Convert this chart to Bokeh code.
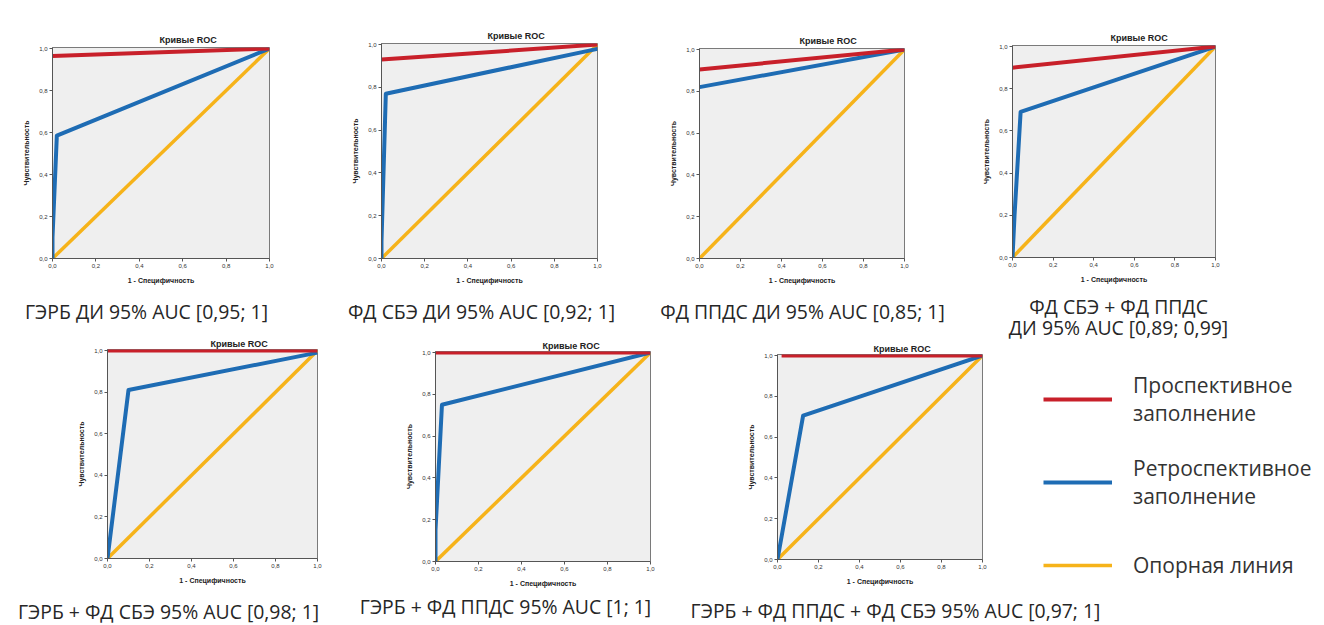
import numpy as np
from bokeh.plotting import figure
from bokeh.models import Range1d, Label, Legend, LegendItem, FixedTicker, CustomJSTickFormatter
from bokeh.layouts import row, column
from bokeh.embed import file_html
from bokeh.resources import INLINE

# ---------------- data ----------------
chart_title = "Кривые ROC"
x_axis_label = "1 - Специфичность"
y_axis_label = "Чувствительность"
tick_values = [0.0, 0.2, 0.4, 0.6, 0.8, 1.0]
series_names = ["Проспективное\nзаполнение", "Ретроспективное\nзаполнение", "Опорная линия"]

captions_row1 = ["ГЭРБ ДИ 95% AUC [0,95; 1]",
                 "ФД СБЭ ДИ 95% AUC [0,92; 1]",
                 "ФД ППДС ДИ 95% AUC [0,85; 1]"]
captions_row1_right = ["ФД СБЭ + ФД ППДС", "ДИ 95% AUC [0,89; 0,99]"]
captions_row2 = ["ГЭРБ + ФД СБЭ 95% AUC [0,98; 1]",
                 "ГЭРБ + ФД ППДС 95% AUC [1; 1]",
                 "ГЭРБ + ФД ППДС + ФД СБЭ 95% AUC [0,97; 1]"]

ref_x = [0.0, 1.0]
ref_y = [0.0, 1.0]

p1_red_x = [0.0, 1.0]
p1_red_y = [0.965, 1.0]
p1_blue_x = [0.0, 0.0, 0.02, 1.0]
p1_blue_y = [0.0, 0.1, 0.585, 1.0]

p2_red_x = [0.0, 1.0]
p2_red_y = [0.93, 1.0]
p2_blue_x = [0.0, 0.0, 0.02, 1.0]
p2_blue_y = [0.0, 0.08, 0.77, 0.98]

p3_red_x = [0.0, 1.0]
p3_red_y = [0.905, 1.0]
p3_blue_x = [0.0, 1.0]
p3_blue_y = [0.82, 1.0]

p4_red_x = [0.0, 1.0]
p4_red_y = [0.90, 1.0]
p4_blue_x = [0.0, 0.01, 0.04, 1.0]
p4_blue_y = [0.0, 0.2, 0.69, 1.0]

p5_red_x = [0.0, 1.0]
p5_red_y = [1.0, 1.0]
p5_blue_x = [0.0, 0.1, 1.0]
p5_blue_y = [0.0, 0.81, 0.99]

p6_red_x = [0.0, 1.0]
p6_red_y = [1.0, 1.0]
p6_blue_x = [0.0, 0.0, 0.03, 1.0]
p6_blue_y = [0.0, 0.15, 0.75, 1.0]

p7_red_x = [0.02, 1.0]
p7_red_y = [1.0, 1.0]
p7_blue_x = [0.0, 0.125, 1.0]
p7_blue_y = [0.0, 0.705, 1.0]

red_series = [(p1_red_x, p1_red_y), (p2_red_x, p2_red_y), (p3_red_x, p3_red_y), (p4_red_x, p4_red_y),
              (p5_red_x, p5_red_y), (p6_red_x, p6_red_y), (p7_red_x, p7_red_y)]
blue_series = [(p1_blue_x, p1_blue_y), (p2_blue_x, p2_blue_y), (p3_blue_x, p3_blue_y), (p4_blue_x, p4_blue_y),
               (p5_blue_x, p5_blue_y), (p6_blue_x, p6_blue_y), (p7_blue_x, p7_blue_y)]

# ---------------- styles / layout (page pixels, origin top-left) ----------------
RED = "#c8202a"
BLUE = "#1e6cb4"
ORANGE = "#f6b31a"
CAP_FONT = "Open Sans"
SPSS_FONT = "Liberation Sans"
CAP_SIZE = "19.4px"
W = 1324

ROWA_Y0, ROWA_H = 0, 292
STRIP1_Y0 = 292
LEFT_W = 1000                       # left block (charts 5-7) / right block (legend)
STRIP1L_H = 32                      # captions 1-3
STRIP1R_H = 48                      # two-line caption of chart 4
ROWB_Y0 = STRIP1_Y0 + STRIP1L_H     # 324
ROWB_H = 268
LEG_Y0 = STRIP1_Y0 + STRIP1R_H      # 340
LEG_H = 252
STRIP2_Y0, STRIP2_H = 592, 33

# fig_x0, fig_w, row_y0, row_h, frame_l, frame_t, frame_w, frame_h, title_left, title_standoff
layout_spec = [
    (0, 330, ROWA_Y0, ROWA_H, 52, 47, 217, 211, 159, 5),
    (330, 320, ROWA_Y0, ROWA_H, 381, 43, 216, 215, 487, 5),
    (650, 330, ROWA_Y0, ROWA_H, 699, 48, 205, 210, 799, 5),
    (980, 344, ROWA_Y0, ROWA_H, 1012, 45, 203, 212, 1110, 5),
    (0, 340, ROWB_Y0, ROWB_H, 107, 349, 210, 209, 210, 2),
    (340, 340, ROWB_Y0, ROWB_H, 435, 351, 215, 210, 542, 2),
    (680, 320, ROWB_Y0, ROWB_H, 777, 354, 205, 205, 873, 2),
]
# caption centres (page pixels)
cap1_pos = [(146, 310.5), (481, 310.5), (802, 310.5)]
cap1_right_pos = [(1118, 305.5), (1118, 326.5)]
cap2_pos = [(168, 611), (505, 606), (895, 610)]

fmt = CustomJSTickFormatter(code="return tick.toFixed(1).replace('.', ',');")


def make_panel(i):
    x0, w, ry0, rh, fl, ft, fw, fh, tl, tso = layout_spec[i]
    p = figure(width=w, height=rh, x_range=Range1d(0, 1), y_range=Range1d(0, 1.005),
               toolbar_location=None, output_backend="svg", frame_align=False,
               min_border_left=fl - x0, min_border_right=x0 + w - (fl + fw),
               min_border_top=ft - ry0, min_border_bottom=ry0 + rh - (ft + fh),
               background_fill_color="#efefef", border_fill_color="white",
               outline_line_color="#7a7a7a", outline_line_width=1)
    p.title.text = chart_title
    p.title.align = "left"
    p.title.offset = tl - fl
    p.title.standoff = tso
    p.title.text_font = SPSS_FONT
    p.title.text_font_size = "9px"
    p.title.text_font_style = "bold"
    p.title.text_color = "#222222"
    p.grid.visible = False
    for ax in (p.xaxis, p.yaxis):
        ax.ticker = FixedTicker(ticks=tick_values)
        ax.formatter = fmt
        ax.minor_tick_line_color = None
        ax.major_tick_in = 0
        ax.major_tick_out = 3
        ax.major_tick_line_color = "#555555"
        ax.axis_line_color = "#555555"
        ax.major_label_text_font = SPSS_FONT
        ax.major_label_text_font_size = "6px"
        ax.major_label_text_color = "#333333"
        ax.major_label_standoff = 2
        ax.axis_label_text_font = SPSS_FONT
        ax.axis_label_text_font_size = "7px"
        ax.axis_label_text_font_style = "bold"
        ax.axis_label_text_color = "#222222"
        ax.axis_label_standoff = 6
    p.xaxis.axis_label = x_axis_label
    p.yaxis.axis_label = y_axis_label

    rx, ry = red_series[i]
    bx, by = blue_series[i]
    p.line(ref_x, ref_y, line_color=ORANGE, line_width=3.5)
    p.line(bx, by, line_color=BLUE, line_width=4, line_join="round")
    p.line(rx, ry, line_color=RED, line_width=4)
    return p


def make_canvas(x0, w, y0, h):
    """Blank figure whose frame is the whole figure; data y = -(page y)."""
    s = figure(width=w, height=h, x_range=Range1d(x0, x0 + w), y_range=Range1d(-(y0 + h), -y0),
               toolbar_location=None, output_backend="svg", x_axis_type=None, y_axis_type=None,
               min_border=0, outline_line_color=None, background_fill_color="white",
               border_fill_color="white", frame_align=False)
    s.grid.visible = False
    return s


def add_captions(s, texts, positions):
    for txt, (cx, cy) in zip(texts, positions):
        s.add_layout(Label(x=cx, y=-cy, text=txt, text_font=CAP_FONT, text_font_size=CAP_SIZE,
                           text_color="#262626", text_align="center", text_baseline="middle"))


panels = [make_panel(i) for i in range(7)]

# legend figure; its (invisible, NaN) renderers carry the series styles for the legend samples
lf = make_canvas(LEFT_W, W - LEFT_W, LEG_Y0, LEG_H)
nan = np.array([np.nan])
lr_red = lf.line(nan, nan, line_color=RED, line_width=4)
lr_blue = lf.line(nan, nan, line_color=BLUE, line_width=4)
lr_ref = lf.line(nan, nan, line_color=ORANGE, line_width=3.5)
legend = Legend(items=[LegendItem(label=series_names[0], renderers=[lr_red]),
                       LegendItem(label=series_names[1], renderers=[lr_blue]),
                       LegendItem(label=series_names[2], renderers=[lr_ref])],
                location=(43, -5), orientation="vertical",
                glyph_width=69, glyph_height=50, label_height=64, spacing=19,
                padding=0, margin=0, label_standoff=21,
                label_text_font=CAP_FONT, label_text_font_size="21px",
                label_text_color="#333333", label_text_line_height=1.72,
                border_line_alpha=0, background_fill_alpha=0)
lf.add_layout(legend)

strip1_left = make_canvas(0, LEFT_W, STRIP1_Y0, STRIP1L_H)
add_captions(strip1_left, captions_row1, cap1_pos)
strip1_right = make_canvas(LEFT_W, W - LEFT_W, STRIP1_Y0, STRIP1R_H)
add_captions(strip1_right, captions_row1_right, cap1_right_pos)
strip2 = make_canvas(0, W, STRIP2_Y0, STRIP2_H)
add_captions(strip2, captions_row2, cap2_pos)

layout = column(
    row(*panels[0:4]),
    row(column(strip1_left, row(*panels[4:7])), column(strip1_right, lf)),
    strip2,
)

open("out.html", "w").write(file_html(layout, INLINE, title="ROC"))
